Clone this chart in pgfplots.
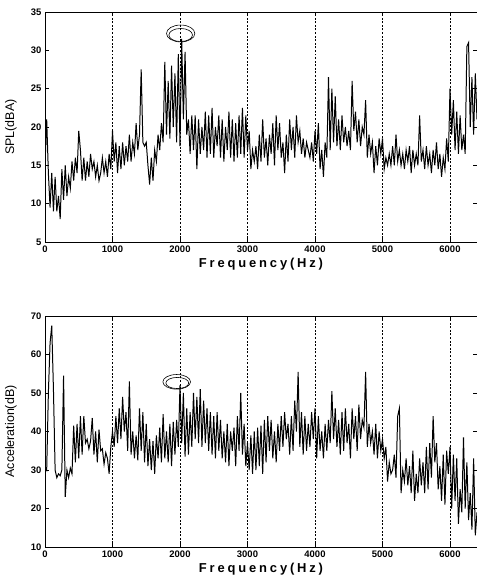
\documentclass[border=0pt]{standalone}
\usepackage{fontspec}
\setmainfont{Liberation Sans}
\usepackage{pgfplots}
\pgfplotsset{compat=1.18}
\pgfplotsset{
    specplot/.style={
        width=432bp, height=230bp,
        scale only axis,
        xmin=0, xmax=6400,
        xtick={0,1000,...,6000},
        /pgf/number format/1000 sep={},
        /pgf/number format/assume math mode=true,
        tick label style={font=\fontsize{9.5}{9.5}\selectfont\bfseries},
        tick align=inside,
        major tick length=4bp,
        tick style={black, line width=0.6pt},
        axis line style={black, line width=0.9pt},
        xmajorgrids,
        grid style={black, line width=1pt, dash pattern=on 2pt off 1.6pt},
        xlabel style={at={(axis description cs:0.5,0)}, anchor=north, yshift=-13bp,
            font=\fontsize{13}{13}\selectfont\bfseries\addfontfeatures{LetterSpace=22}},
        ylabel style={at={(axis description cs:-0.079,0.5)}, anchor=center, rotate=0,
            font=\fontsize{12.5}{12.5}\selectfont},
    },
    spec/.style={black, line width=1pt, mark=none},
}

\begin{document}
\begin{tikzpicture}
\path[use as bounding box] (0,0) rectangle (477bp,-575bp);

\begin{axis}[specplot, at={(45bp,-12bp)}, anchor=north west,
    ymin=5, ymax=35, ytick={5,10,...,35},
    xlabel={Frequency(Hz)}, ylabel={SPL(dBA)}]
\addplot[spec] coordinates {
(0,15) (25,21) (50,14) (75,9.5) (100,14) (125,9) (150,13.5) (175,9) (200,11) (225,8) (250,14.5) (275,10.5) (300,15) (325,11) (350,13.5) (375,12)
(400,15.5) (425,13) (450,16) (475,14) (500,19.5) (525,17) (550,13) (575,16) (600,13) (625,15.5) (650,13.5) (675,16.5) (700,14.5) (725,15.5) (750,13.5) (775,15)
(800,13) (825,14) (850,16) (875,14) (900,15.5) (925,13.5) (950,16.5) (975,14.5) (1000,19.5) (1025,15.5) (1050,18) (1075,14) (1100,17.5) (1125,14.5) (1150,18) (1175,15)
(1200,17.5) (1225,15.5) (1250,19) (1275,15.5) (1300,18) (1325,16.5) (1350,20.5) (1375,17) (1400,19) (1425,27.5) (1450,18) (1475,17.5) (1500,18) (1525,15) (1550,12.5) (1575,16)
(1600,13) (1625,17) (1650,15.5) (1675,19) (1700,17) (1725,20.5) (1750,18) (1775,28.5) (1800,19) (1825,26) (1850,18.5) (1875,28) (1900,20) (1925,27) (1950,18) (1975,29.5)
(2000,17.5) (2025,31.5) (2050,21) (2075,29.8) (2100,19) (2125,21) (2150,16.5) (2175,21.5) (2200,17) (2225,21.5) (2250,14.5) (2275,21) (2300,16.5) (2325,20) (2350,17) (2375,22)
(2400,16) (2425,21.5) (2450,16.5) (2475,22.5) (2500,16) (2525,20) (2550,17.5) (2575,21.5) (2600,16) (2625,21) (2650,15.5) (2675,20) (2700,17) (2725,22) (2750,16) (2775,21)
(2800,15.5) (2825,20.5) (2850,16) (2875,21.5) (2900,16.5) (2925,22.5) (2950,16) (2975,21.5) (3000,17) (3025,19.5) (3050,14.5) (3075,17) (3100,15.5) (3125,17.5) (3150,14.5) (3175,19)
(3200,15.5) (3225,21) (3250,16) (3275,18.5) (3300,15) (3325,19) (3350,16.5) (3375,20.5) (3400,15) (3425,21.5) (3450,17) (3475,20.5) (3500,16) (3525,18) (3550,14) (3575,19)
(3600,15.5) (3625,21) (3650,17) (3675,20) (3700,16) (3725,21.5) (3750,18) (3775,19.5) (3800,16.5) (3825,18.5) (3850,16) (3875,18) (3900,17) (3925,16) (3950,18) (3975,15.5)
(4000,19.5) (4025,16.5) (4050,20.5) (4075,14.5) (4100,17) (4125,13.5) (4150,18) (4175,16) (4200,26.5) (4225,17) (4250,25) (4275,18) (4300,24) (4325,17.5) (4350,21) (4375,17)
(4400,21.5) (4425,18) (4450,20) (4475,17.5) (4500,19.5) (4525,17) (4550,26) (4575,19.5) (4600,22) (4625,18) (4650,21) (4675,17.5) (4700,20) (4725,19) (4750,23.5) (4775,16)
(4800,19) (4825,16.5) (4850,18) (4875,14) (4900,17.5) (4925,15) (4950,18.5) (4975,16.5) (5000,18.5) (5025,14.5) (5050,16) (5075,15) (5100,16.5) (5125,15) (5150,17.5) (5175,15)
(5200,19) (5225,15.5) (5250,17) (5275,15) (5300,16.5) (5325,14.5) (5350,17) (5375,15.5) (5400,17.5) (5425,14) (5450,17) (5475,15) (5500,16.5) (5525,15) (5550,21.5) (5575,15.5)
(5600,17) (5625,14.5) (5650,17.5) (5675,15) (5700,16.5) (5725,14) (5750,17) (5775,15) (5800,18) (5825,14.5) (5850,16.5) (5875,13.5) (5900,16) (5925,14.5) (5950,18.5) (5975,15.5)
(6000,25) (6025,19) (6050,23.5) (6075,17) (6100,22) (6125,16.5) (6150,21.5) (6175,17) (6200,19) (6225,16.5) (6250,30.5) (6275,31) (6300,20) (6325,26.5) (6350,19) (6375,27) (6400,21)
};
\draw[black, line width=0.6pt] (axis cs:2010,32.2) ellipse [x radius=210, y radius=1.1];
\draw[black, line width=0.6pt] (axis cs:2010,32.0) ellipse [x radius=175, y radius=0.85];
\end{axis}

\begin{axis}[specplot, at={(45bp,-316bp)}, anchor=north west,
    height=231bp,
    ymin=10, ymax=70, ytick={10,20,...,70},
    xlabel={Frequency(Hz)}, ylabel={Acceleration(dB)}]
\addplot[spec] coordinates {
(0,31) (25,30) (50,50) (75,63) (100,67.5) (125,51) (150,30) (175,28) (200,29) (225,28.5) (250,30) (275,54.5) (300,23) (325,30) (350,28) (375,30.5)
(400,29) (425,41.5) (450,32) (475,42) (500,33) (525,44) (550,34) (575,44) (600,37) (625,38) (650,35.5) (675,37.5) (700,43.5) (725,34) (750,40) (775,32)
(800,40.5) (825,35) (850,35.5) (875,31.5) (900,34.5) (925,33) (950,29) (975,36) (1000,40) (1025,36) (1050,44) (1075,37) (1100,46) (1125,38) (1150,49) (1175,40)
(1200,45) (1225,35) (1250,53) (1275,34) (1300,40) (1325,33) (1350,39) (1375,32.5) (1400,46) (1425,35) (1450,45) (1475,32) (1500,42) (1525,31) (1550,38) (1575,30)
(1600,37.5) (1625,29) (1650,39) (1675,33) (1700,41) (1725,32) (1750,44.5) (1775,33) (1800,40) (1825,32) (1850,42) (1875,31) (1900,42.5) (1925,34) (1950,43) (1975,36)
(2000,52) (2025,37) (2050,50) (2075,33.5) (2100,46) (2125,34) (2150,45) (2175,36) (2200,50) (2225,38) (2250,49) (2275,37) (2300,51) (2325,36) (2350,48) (2375,37)
(2400,46) (2425,35) (2450,45) (2475,34) (2500,44) (2525,33) (2550,45) (2575,35) (2600,43) (2625,33) (2650,40) (2675,32) (2700,42) (2725,31) (2750,40) (2775,35)
(2800,41) (2825,31) (2850,44) (2875,35) (2900,50) (2925,34) (2950,42) (2975,31) (3000,37) (3025,30) (3050,39) (3075,29) (3100,40) (3125,30) (3150,41) (3175,31)
(3200,41.5) (3225,29) (3250,43) (3275,32) (3300,44) (3325,35) (3350,43) (3375,33) (3400,40) (3425,32) (3450,42) (3475,35) (3500,44) (3525,36) (3550,45) (3575,38)
(3600,42) (3625,34) (3650,44) (3675,35) (3700,48) (3725,40) (3750,55.5) (3775,36) (3800,45) (3825,34) (3850,44) (3875,35) (3900,42) (3925,36) (3950,45) (3975,38)
(4000,46) (4025,33) (4050,44) (4075,35) (4100,40) (4125,33) (4150,42) (4175,35) (4200,43) (4225,37) (4250,50.5) (4275,38) (4300,46) (4325,36) (4350,43) (4375,34)
(4400,45) (4425,35) (4450,46) (4475,37) (4500,42) (4525,33) (4550,46) (4575,38) (4600,44) (4625,35) (4650,47) (4675,38) (4700,43) (4725,41) (4750,55.5) (4775,36)
(4800,42) (4825,37) (4850,40) (4875,34) (4900,42) (4925,33) (4950,40) (4975,35) (5000,38) (5025,33) (5050,36) (5075,27) (5100,32) (5125,29) (5150,30) (5175,34)
(5200,28) (5225,44) (5250,46) (5275,24) (5300,30) (5325,27) (5350,33) (5375,26) (5400,31) (5425,24) (5450,35) (5475,22) (5500,29) (5525,24) (5550,33) (5575,26)
(5600,32) (5625,24) (5650,36) (5675,25) (5700,37) (5725,28) (5750,44) (5775,32) (5800,37) (5825,25) (5850,31) (5875,22) (5900,34) (5925,21) (5950,35) (5975,29)
(6000,36) (6025,20) (6050,34) (6075,22) (6100,33) (6125,16) (6150,25) (6175,19) (6200,38.5) (6225,20) (6250,32) (6275,17) (6300,24) (6325,14.5) (6350,33) (6375,13) (6400,19)
};
\draw[black, line width=0.6pt] (axis cs:1951,52.9) ellipse [x radius=205, y radius=1.9];
\draw[black, line width=0.6pt] (axis cs:1960,52.6) ellipse [x radius=170, y radius=1.45];
\end{axis}
\end{tikzpicture}
\end{document}
